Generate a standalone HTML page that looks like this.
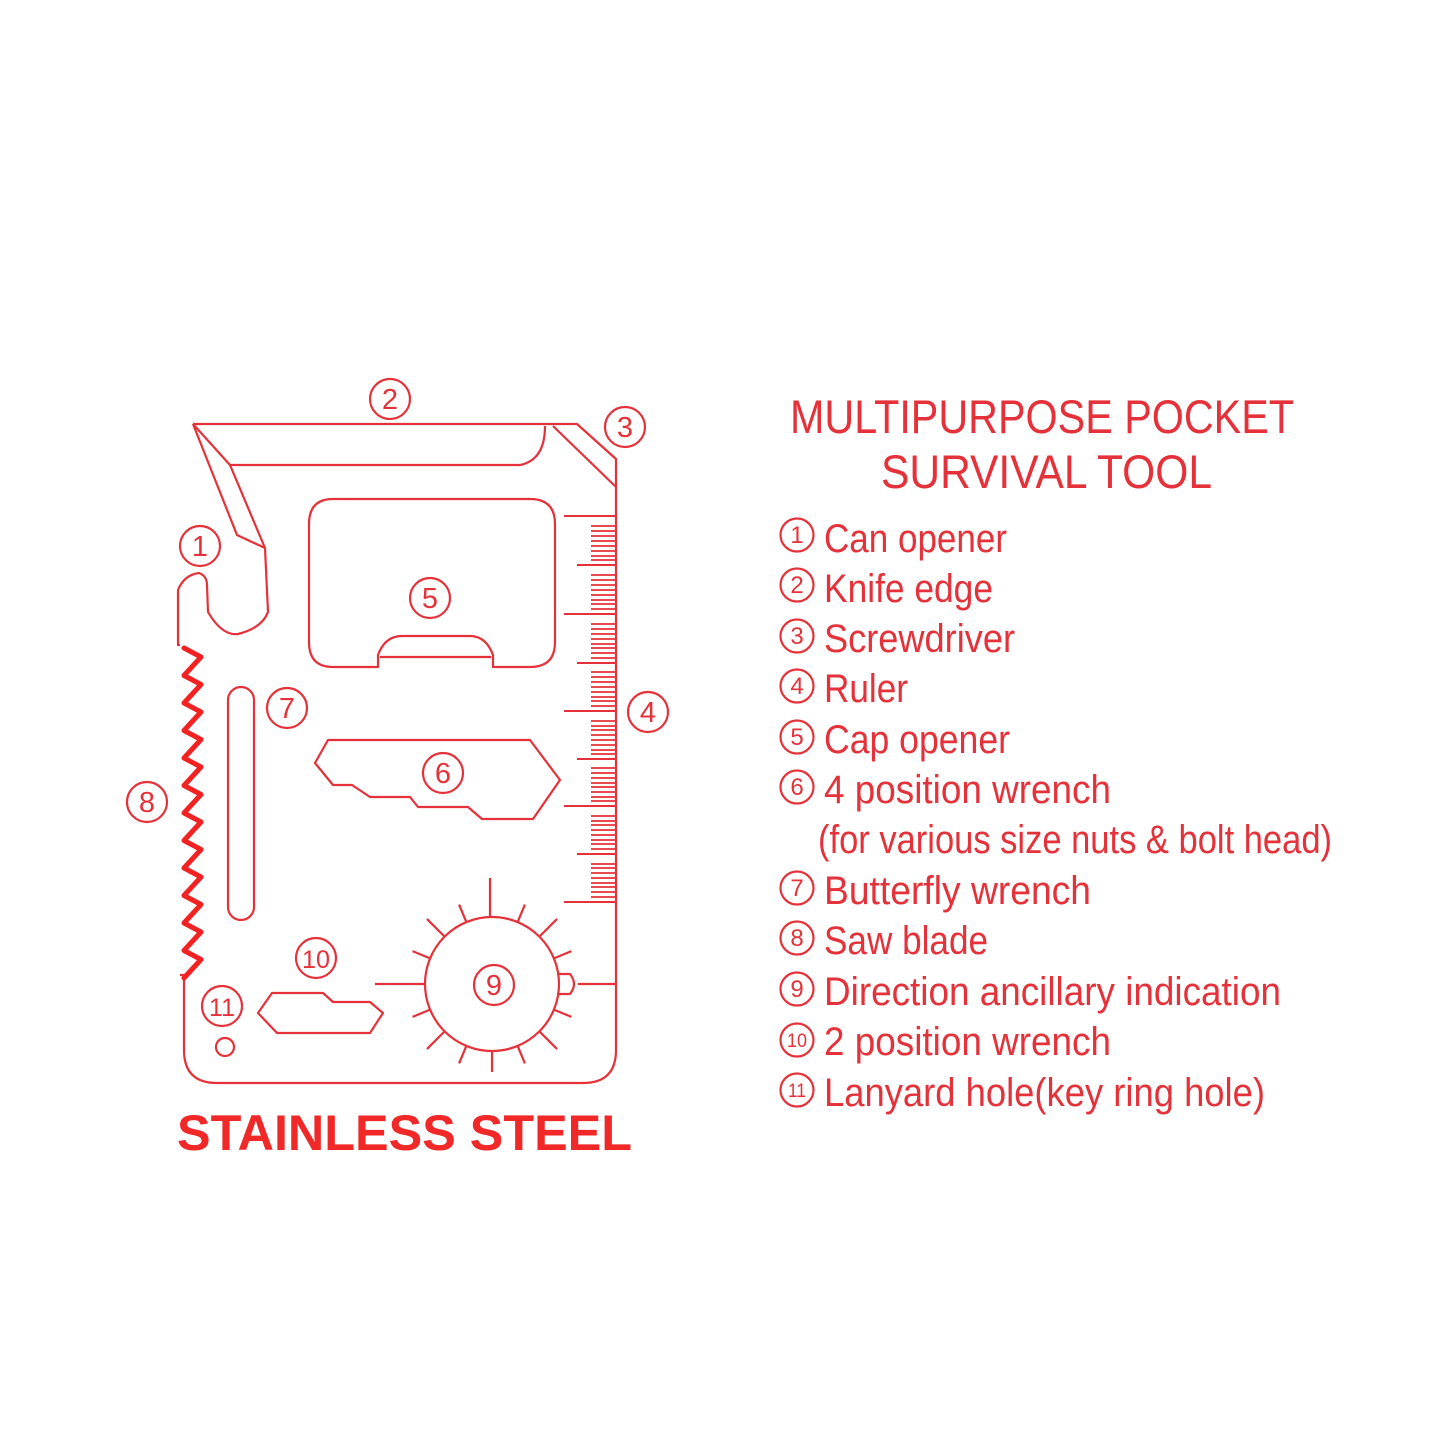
<!DOCTYPE html>
<html><head><meta charset="utf-8"><style>
html,body{margin:0;padding:0;background:#fff;}
svg{display:block;}
text{font-family:"Liberation Sans",sans-serif;fill:#e5323a;}
</style></head><body>
<svg width="1445" height="1445" viewBox="0 0 1445 1445" xmlns="http://www.w3.org/2000/svg">
<rect width="1445" height="1445" fill="#fff"/>
<g fill="none" stroke="#e5323a" stroke-width="2.2" stroke-linejoin="round">
<!-- outer outline -->
<path d="M193,424 L577,424 L616,459 L616,1050 Q616,1083 583,1083 L217,1083 Q184,1083 184,1050 L184,975 L180,975"/>
<path d="M180,645 L178,645 L178,590 Q184,575 199,573 Q207,576 207,585 L208,612 Q222,636 238,634 Q262,628 268,612 L265,548 L237,535 L193,424"/>
<!-- knife inner -->
<path d="M193,424 L230,465 L265,548"/>
<path d="M230,465 L520,465 Q545,460 545,426"/>
<!-- screwdriver -->
<path d="M553,426 L616,487"/>
<!-- cap opener -->
<path d="M333,499 L530,499 Q555,499 555,524 L555,642 Q555,667 530,667 L493,667 L493,655 Q486,636 470,636 L402,636 Q385,636 378,655 L378,667 L333,667 Q309,667 309,642 L309,524 Q309,499 333,499 Z"/>
<line x1="380" y1="657" x2="491" y2="657"/>
<!-- butterfly slot -->
<rect x="228" y="687" width="26" height="233" rx="13"/>
<!-- wrench 6 -->
<path d="M315,763 L328,740 L530,740 L560,780 L533,819 L482,819 L468,807 L418,807 L410,797 L370,797 L352,785 L333,785 Z"/>
<!-- wrench 10 -->
<path d="M258,1013 L272,993 L323,993 L333,1002 L370,1002 L383,1013 L370,1033 L277,1033 Z"/>
<!-- lanyard -->
<circle cx="225" cy="1047" r="9"/>
<!-- compass -->
<circle cx="492" cy="984" r="67"/>
<line x1="490" y1="878" x2="490" y2="917"/>
<line x1="375" y1="984" x2="425" y2="984"/>
<path d="M559,974 L570,974 Q578,984 570,994 L559,994"/>
<line x1="578" y1="984" x2="616" y2="984"/>
<g transform="translate(492,984)">
<line x1="0" y1="67" x2="0" y2="88" transform="rotate(0)"/>
<line x1="0" y1="67" x2="0" y2="86" transform="rotate(22.5)"/>
<line x1="0" y1="67" x2="0" y2="86" transform="rotate(-22.5)"/>
<line x1="0" y1="67" x2="0" y2="92" transform="rotate(45)"/>
<line x1="0" y1="67" x2="0" y2="92" transform="rotate(-45)"/>
<line x1="0" y1="67" x2="0" y2="86" transform="rotate(67.5)"/>
<line x1="0" y1="67" x2="0" y2="86" transform="rotate(-67.5)"/>
<line x1="0" y1="67" x2="0" y2="86" transform="rotate(112.5)"/>
<line x1="0" y1="67" x2="0" y2="86" transform="rotate(-112.5)"/>
<line x1="0" y1="67" x2="0" y2="92" transform="rotate(135)"/>
<line x1="0" y1="67" x2="0" y2="92" transform="rotate(-135)"/>
<line x1="0" y1="67" x2="0" y2="86" transform="rotate(157.5)"/>
<line x1="0" y1="67" x2="0" y2="86" transform="rotate(-157.5)"/>
</g>
<!-- ruler -->
<g stroke-width="2">
<line x1="564" y1="516" x2="616" y2="516"/><line x1="577" y1="565" x2="616" y2="565"/>
<line x1="564" y1="614" x2="616" y2="614"/><line x1="577" y1="663" x2="616" y2="663"/>
<line x1="564" y1="711" x2="616" y2="711"/><line x1="577" y1="759" x2="616" y2="759"/>
<line x1="564" y1="806" x2="616" y2="806"/><line x1="577" y1="854" x2="616" y2="854"/>
<line x1="564" y1="902" x2="616" y2="902"/>
</g>
<path stroke-width="1.8" d="M591,526h25M591,531h25M591,536h25M591,541h25M591,546h25M591,551h25M591,556h25M591,560h25
M591,575h25M591,580h25M591,585h25M591,590h25M591,595h25M591,600h25M591,604h25M591,609h25
M591,624h25M591,629h25M591,634h25M591,639h25M591,644h25M591,648h25M591,653h25M591,658h25
M591,672h25M591,677h25M591,682h25M591,687h25M591,692h25M591,697h25M591,701h25M591,706h25
M591,721h25M591,726h25M591,730h25M591,735h25M591,740h25M591,745h25M591,750h25M591,754h25
M591,768h25M591,773h25M591,778h25M591,783h25M591,787h25M591,792h25M591,797h25M591,801h25
M591,816h25M591,821h25M591,825h25M591,830h25M591,835h25M591,840h25M591,844h25M591,849h25
M591,864h25M591,868h25M591,873h25M591,878h25M591,883h25M591,887h25M591,892h25M591,897h25"/>
<!-- label circles -->
<circle cx="390" cy="399" r="20"/><circle cx="625" cy="427" r="20"/>
<circle cx="200" cy="546" r="20"/><circle cx="430" cy="598" r="20"/>
<circle cx="287" cy="708" r="20"/><circle cx="648" cy="712" r="20"/>
<circle cx="443" cy="773" r="20"/><circle cx="147" cy="802" r="20"/>
<circle cx="316" cy="958" r="20"/><circle cx="494" cy="985" r="20"/>
<circle cx="222" cy="1006" r="20"/>
<!-- list circles -->
<circle cx="797" cy="535" r="16.5"/><circle cx="797" cy="585" r="16.5"/>
<circle cx="797" cy="636" r="16.5"/><circle cx="797" cy="686" r="16.5"/>
<circle cx="797" cy="737" r="16.5"/><circle cx="797" cy="787" r="16.5"/>
<circle cx="797" cy="888" r="16.5"/><circle cx="797" cy="938" r="16.5"/>
<circle cx="797" cy="989" r="16.5"/><circle cx="797" cy="1040" r="16.5"/>
<circle cx="797" cy="1090" r="16.5"/>
</g>
<!-- saw -->
<path fill="none" stroke="#f22222" stroke-width="5" stroke-linejoin="round" stroke-linecap="round"
d="M184,648 l17,9 l-17,18.5 l17,9 l-17,18.5 l17,9 l-17,18.5 l17,9 l-17,18.5 l17,9 l-17,18.5 l17,9 l-17,18.5 l17,9 l-17,18.5 l17,9 l-17,18.5 l17,9 l-17,18.5 l17,9 l-17,18.5 l17,9 l-17,18.5 l17,9 l-17,18.5"/>
<!-- label numbers -->
<g font-size="29" text-anchor="middle">
<text x="390" y="409">2</text><text x="625" y="437">3</text>
<text x="200" y="556">1</text><text x="430" y="608">5</text>
<text x="287" y="718">7</text><text x="648" y="722">4</text>
<text x="443" y="783">6</text><text x="147" y="812">8</text>
<text x="316" y="968" font-size="25" textLength="28" lengthAdjust="spacingAndGlyphs">10</text>
<text x="494" y="995">9</text>
<text x="222" y="1016" font-size="25" textLength="26" lengthAdjust="spacingAndGlyphs">11</text>
</g>
<g font-size="24" text-anchor="middle">
<text x="797" y="543">1</text><text x="797" y="593">2</text><text x="797" y="644">3</text>
<text x="797" y="694">4</text><text x="797" y="745">5</text><text x="797" y="795">6</text>
<text x="797" y="896">7</text><text x="797" y="946">8</text><text x="797" y="997">9</text>
<text x="797" y="1047" font-size="19" textLength="20" lengthAdjust="spacingAndGlyphs">10</text>
<text x="797" y="1097" font-size="19" textLength="18" lengthAdjust="spacingAndGlyphs">11</text>
</g>
<!-- stainless steel -->
<text x="177" y="1150" font-size="50" font-weight="bold" textLength="455" lengthAdjust="spacingAndGlyphs" style="fill:#f02828">STAINLESS STEEL</text>
<!-- title -->
<text x="790" y="433" font-size="47" textLength="504" lengthAdjust="spacingAndGlyphs">MULTIPURPOSE POCKET</text>
<text x="881" y="488" font-size="47" textLength="331" lengthAdjust="spacingAndGlyphs">SURVIVAL TOOL</text>
<!-- list -->
<g font-size="40">
<text x="824" y="552" textLength="183" lengthAdjust="spacingAndGlyphs">Can opener</text>
<text x="824" y="602" textLength="169" lengthAdjust="spacingAndGlyphs">Knife edge</text>
<text x="824" y="652" textLength="191" lengthAdjust="spacingAndGlyphs">Screwdriver</text>
<text x="824" y="702" textLength="84" lengthAdjust="spacingAndGlyphs">Ruler</text>
<text x="824" y="753" textLength="186" lengthAdjust="spacingAndGlyphs">Cap opener</text>
<text x="824" y="803" textLength="287" lengthAdjust="spacingAndGlyphs">4 position wrench</text>
<text x="818" y="853" textLength="514" lengthAdjust="spacingAndGlyphs">(for various size nuts &amp; bolt head)</text>
<text x="824" y="904" textLength="267" lengthAdjust="spacingAndGlyphs">Butterfly wrench</text>
<text x="824" y="954" textLength="164" lengthAdjust="spacingAndGlyphs">Saw blade</text>
<text x="824" y="1005" textLength="457" lengthAdjust="spacingAndGlyphs">Direction ancillary indication</text>
<text x="824" y="1055" textLength="287" lengthAdjust="spacingAndGlyphs">2 position wrench</text>
<text x="824" y="1106" textLength="441" lengthAdjust="spacingAndGlyphs">Lanyard hole(key ring hole)</text>
</g>
</svg>
</body></html>
